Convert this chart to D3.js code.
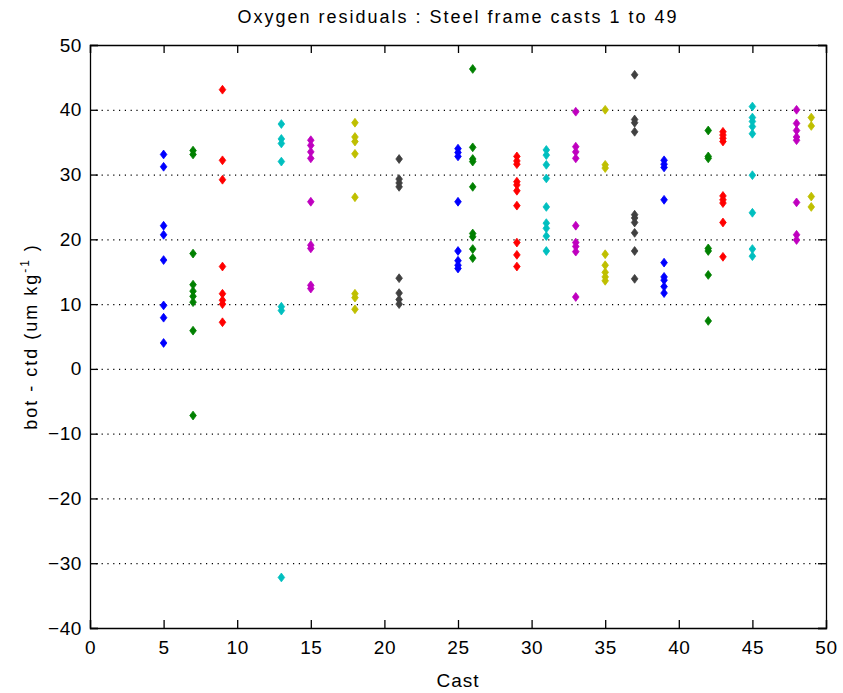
<!DOCTYPE html>
<html>
<head>
<meta charset="utf-8">
<script src="https://cdn.jsdelivr.net/npm/d3@7"></script>
<style>
  body { margin: 0; background: #fff; }
  svg { display: block; }
  text { font-family: "Liberation Sans", Arial, sans-serif; fill: #000; }
</style>
</head>
<body>
<svg id="chart" width="843" height="693"></svg>
<script>
// ---- data ----
const casts = [5, 7, 9, 13, 15, 18, 21, 25, 26, 29, 31, 33, 35, 37, 39, 42, 43, 45, 48, 49];
const castColors = ["#0000FF", "#008000", "#FF0000", "#00BFBF", "#BF00BF", "#BFBF00", "#404040",
                    "#0000FF", "#008000", "#FF0000", "#00BFBF", "#BF00BF", "#BFBF00", "#404040",
                    "#0000FF", "#008000", "#FF0000", "#00BFBF", "#BF00BF", "#BFBF00"];
const residuals = [
  [33.1, 31.2, 22.1, 20.7, 16.8, 9.8, 7.9, 4.0],                 // 5
  [33.7, 33.1, 17.8, 13.0, 12.0, 11.2, 10.3, 5.9, -7.2],        // 7
  [43.1, 32.2, 29.2, 15.8, 11.6, 10.6, 10.0, 7.2],              // 9
  [37.8, 35.5, 34.8, 32.0, 9.6, 9.0, -32.2],                    // 13
  [35.3, 34.5, 33.5, 32.5, 25.8, 19.1, 18.6, 12.9, 12.4],       // 15
  [38.0, 35.8, 35.1, 33.2, 26.5, 11.6, 11.0, 9.2],              // 18
  [32.4, 29.3, 28.7, 28.1, 14.0, 11.7, 10.7, 10.0],             // 21
  [34.0, 33.4, 32.8, 25.8, 18.2, 16.7, 16.0, 15.5],             // 25
  [46.3, 34.2, 32.4, 32.0, 28.1, 20.9, 20.4, 18.5, 17.1],       // 26
  [32.8, 32.1, 31.6, 28.9, 28.4, 27.5, 25.2, 19.5, 17.6, 15.8], // 29
  [33.8, 33.0, 31.5, 29.4, 25.0, 22.5, 21.7, 20.5, 18.2],       // 31
  [39.7, 34.3, 33.5, 32.5, 22.1, 19.5, 18.9, 18.1, 11.1],       // 33
  [40.0, 31.5, 31.0, 17.7, 16.0, 14.9, 14.2, 13.6],             // 35
  [45.4, 38.5, 38.0, 36.6, 23.8, 23.3, 22.6, 21.0, 18.2, 13.9], // 37
  [32.2, 31.6, 31.1, 26.1, 16.4, 14.2, 13.7, 12.7, 11.7],       // 39
  [36.8, 32.8, 32.5, 18.6, 18.2, 14.5, 7.4],                    // 42
  [36.6, 36.1, 35.6, 35.1, 26.7, 26.1, 25.6, 22.6, 17.3],       // 43
  [40.5, 38.8, 38.2, 37.4, 36.3, 29.9, 24.1, 18.5, 17.4],       // 45
  [40.0, 37.9, 36.8, 35.8, 35.3, 25.7, 20.7, 19.9],             // 48
  [38.8, 37.5, 26.6, 25.0]                                      // 49
];
const xTicks = [0, 5, 10, 15, 20, 25, 30, 35, 40, 45, 50];
const yTicks = [-40, -30, -20, -10, 0, 10, 20, 30, 40, 50];
const gridValues = [-30, -20, -10, 0, 10, 20, 30, 40];
const titleText = "Oxygen residuals : Steel frame casts 1 to 49";
const xLabelText = "Cast";

// ---- layout ----
const svg = d3.select("#chart");
const pL = 90, pR = 826, pT = 45, pB = 628;
const x = d3.scaleLinear().domain([0, 50]).range([pL, pR]);
const y = d3.scaleLinear().domain([-40, 50]).range([pB, pT]);

// grid lines (dotted)
svg.append("g").selectAll("line").data(gridValues).join("line")
  .attr("x1", pL).attr("x2", pR)
  .attr("y1", d => y(d) + 0.5).attr("y2", d => y(d) + 0.5)
  .attr("stroke", "#000").attr("stroke-width", 1.2)
  .attr("stroke-dasharray", "1.2,4.6");

// points
const pts = [];
casts.forEach((c, i) => residuals[i].forEach(v => pts.push({c, v, color: castColors[i]})));
const diamond = "M0,-4.4L3.3,0L0,4.4L-3.3,0Z";
svg.append("g").selectAll("path").data(pts).join("path")
  .attr("d", diamond)
  .attr("transform", d => `translate(${x(d.c)},${y(d.v)})`)
  .attr("fill", d => d.color).attr("stroke", d => d.color).attr("stroke-width", 0.8);

// axes (ticks inside, box)
const tickLen = 8;
const axB = svg.append("g").attr("transform", `translate(0,${pB})`)
  .call(d3.axisBottom(x).tickValues(xTicks).tickSize(-tickLen).tickPadding(13).tickFormat(d3.format("d")));
const axT = svg.append("g").attr("transform", `translate(0,${pT})`)
  .call(d3.axisTop(x).tickValues(xTicks).tickSize(-tickLen).tickFormat(""));
const axL = svg.append("g").attr("transform", `translate(${pL},0)`)
  .call(d3.axisLeft(y).tickValues(yTicks).tickSize(-tickLen).tickPadding(8).tickFormat(d3.format("d")));
const axR = svg.append("g").attr("transform", `translate(${pR},0)`)
  .call(d3.axisRight(y).tickValues(yTicks).tickSize(-tickLen).tickFormat(""));
[axB, axT, axL, axR].forEach(a => {
  a.select(".domain").attr("stroke", "#000").attr("stroke-width", 1.3);
  a.selectAll(".tick line").attr("stroke", "#000").attr("stroke-width", 1.3);
  a.selectAll(".tick text").attr("font-size", 19).attr("letter-spacing", 0.6)
    .attr("font-family", "\"Liberation Sans\", Arial, sans-serif").attr("fill", "#000");
});

// title
svg.append("text").attr("x", (pL + pR) / 2).attr("y", 23)
  .attr("text-anchor", "middle").attr("font-size", 18).attr("letter-spacing", 2).text(titleText);
// x label
svg.append("text").attr("x", (pL + pR) / 2).attr("y", 687)
  .attr("text-anchor", "middle").attr("font-size", 19).attr("letter-spacing", 1).text(xLabelText);
// y label with superscript
const yl = svg.append("text").attr("transform", `translate(37,${(pT + pB) / 2}) rotate(-90)`)
  .attr("text-anchor", "middle").attr("font-size", 18).attr("letter-spacing", 2);
yl.append("tspan").text("bot - ctd (um kg");
yl.append("tspan").attr("dy", -8).attr("font-size", 12).text("-1");
yl.append("tspan").attr("dy", 8).text(" )");
</script>
</body>
</html>
